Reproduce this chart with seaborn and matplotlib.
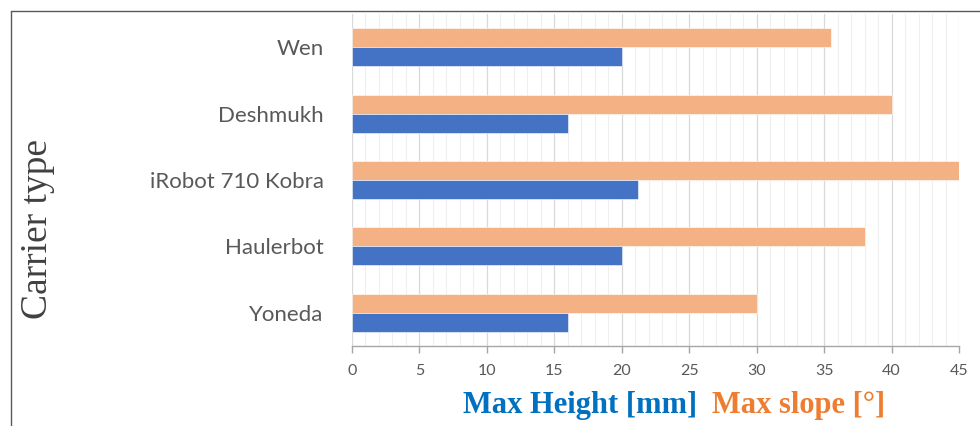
import pandas as pd
import seaborn as sns
import matplotlib.pyplot as plt
from matplotlib.lines import Line2D
from matplotlib.ticker import MultipleLocator

# Values
carriers = ["Wen", "Deshmukh", "iRobot 710 Kobra", "Haulerbot", "Yoneda"]
max_slope = [35.5, 40, 45, 38, 30]
max_height = [20, 16, 21.2, 20, 16]
series_names = ["Max slope [°]", "Max Height [mm]"]
x_ticks = [0, 5, 10, 15, 20, 25, 30, 35, 40, 45]

ORANGE = "#F4B183"
BLUE = "#4472C4"
GREY_TEXT = "#595959"

# long format for seaborn
df = pd.DataFrame({
    "carrier": carriers * 2,
    "value": max_slope + max_height,
    "series": [series_names[0]] * len(carriers) + [series_names[1]] * len(carriers),
})

sns.set_style("white")
plt.rcParams["font.family"] = ["Lato", "DejaVu Sans"]

fig = plt.figure(figsize=(9.8, 4.26), dpi=100)
ax = fig.add_axes([352 / 980, 1 - 346 / 426, (959 - 352) / 980, (346 - 14) / 426])

sns.barplot(
    data=df, x="value", y="carrier", hue="series",
    order=carriers, hue_order=series_names,
    palette=[ORANGE, BLUE], saturation=1, orient="h", width=0.57,
    ax=ax, legend=False, zorder=3,
)
for bar in ax.patches:
    bar.set_edgecolor("white")
    bar.set_linewidth(0.4)

# axes and grid
ax.set_xlim(0, 45)
ax.set_xticks(x_ticks)
ax.xaxis.set_minor_locator(MultipleLocator(1))
ax.grid(axis="x", which="major", color="#D9D9D9", linewidth=0.9, zorder=0)
ax.grid(axis="x", which="minor", color="#EFEFEF", linewidth=0.8, zorder=0)
ax.set_axisbelow(True)
for side in ["top", "right", "left"]:
    ax.spines[side].set_visible(False)
ax.spines["bottom"].set_color("#A6A6A6")
ax.spines["bottom"].set_linewidth(1.0)
ax.tick_params(axis="x", which="major", bottom=True, length=5, width=1.0,
               color="#A6A6A6", labelsize=11.5, labelcolor=GREY_TEXT, pad=8)
ax.tick_params(axis="x", which="minor", bottom=False)
ax.tick_params(axis="y", left=False, labelsize=16, labelcolor=GREY_TEXT, pad=17)
ax.set_xlabel("")
ax.set_ylabel("")

# axis title and legend-like labels
fig.text(38 / 980, 1 - 229 / 426, "Carrier type", rotation=90, ha="center", va="center",
         family="Liberation Serif", fontsize=27, color="#404040")
fig.text(463 / 980, 1 - 406 / 426, series_names[1], ha="left", va="center",
         family="Liberation Serif", fontweight="bold", fontsize=22, color="#0070C0")
fig.text(712 / 980, 1 - 406 / 426, series_names[0], ha="left", va="center",
         family="Liberation Serif", fontweight="bold", fontsize=22, color="#ED7D31")

# outer frame (left and top edges visible)
fig.add_artist(Line2D([11 / 980, 11 / 980], [0, 1 - 11 / 426], transform=fig.transFigure,
                      color="#595959", linewidth=1.0))
fig.add_artist(Line2D([11 / 980, 1], [1 - 11 / 426, 1 - 11 / 426], transform=fig.transFigure,
                      color="#595959", linewidth=1.0))

fig.savefig("out.png", dpi=100)
